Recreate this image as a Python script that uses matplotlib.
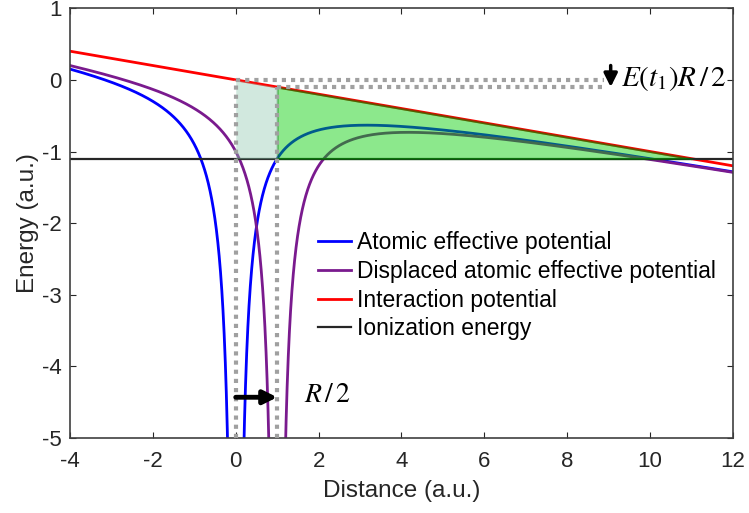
import numpy as np
import matplotlib.pyplot as plt

plt.rcParams['font.family'] = ['Liberation Sans', 'DejaVu Sans']
plt.rcParams['mathtext.fontset'] = 'stix'
plt.rcParams['axes.unicode_minus'] = False

# parameters
field = 0.1          # slope of interaction potential
shift = 1.0          # R/2 displacement
ion_energy = -1.1    # ionization energy level
x_min, x_max = -4, 12
y_min, y_max = -5, 1
xticks = [-4, -2, 0, 2, 4, 6, 8, 10, 12]
yticks = [-5, -4, -3, -2, -1, 0, 1]
labels = ['Atomic effective potential', 'Displaced atomic effective potential',
          'Interaction potential', 'Ionization energy']

x = np.linspace(x_min, x_max, 4001)
x = x[(np.abs(x) > 1e-6) & (np.abs(x - shift) > 1e-6)]
interaction = -field * x
atomic = -1.0 / np.abs(x) + interaction
displaced = -1.0 / np.abs(x - shift) + interaction
x_cross = -ion_energy / field

fig = plt.figure(figsize=(7.49, 5.13), dpi=100)
ax = fig.add_axes([0.0935, 0.146, 0.885, 0.838])

l1, = ax.plot(x, atomic, color='#0000ff', lw=2)
l2, = ax.plot(x, displaced, color='#7a1a8e', lw=2)
l3, = ax.plot([x_min, x_max], [-field * x_min, -field * x_max], color='#ff0000', lw=2)
l4, = ax.plot([x_min, x_max], [ion_energy, ion_energy], color='#262626', lw=1.6)

# shaded regions
xf = np.linspace(shift, x_cross, 200)
ax.fill_between(xf, ion_energy, -field * xf, color=(0, 0.8, 0), alpha=0.45,
                edgecolor=(0, 0.45, 0), lw=1.5, zorder=3)
xl = np.linspace(0, shift, 50)
ax.fill_between(xl, ion_energy, -field * xl, color=(0.55, 0.78, 0.68), alpha=0.4,
                lw=0, zorder=3)

# dotted guides
dot = dict(color='#a0a0a0', lw=3, linestyle=(0, (1, 1.2)), zorder=4)
ax.plot([0, 0], [y_min, 0], **dot)
ax.plot([shift, shift], [y_min, -field * shift], **dot)
ax.plot([0, 8.9], [0, 0], **dot)
ax.plot([shift, 8.9], [-field * shift, -field * shift], **dot)

# arrows
ax.annotate('', xy=(9.05, -0.1), xytext=(9.05, 0.2),
            arrowprops=dict(arrowstyle='-|>', color='black', lw=2.5, mutation_scale=20,
                            shrinkA=0, shrinkB=0), zorder=5)
ax.annotate('', xy=(shift, -4.43), xytext=(0, -4.43),
            arrowprops=dict(arrowstyle='-|>', color='black', lw=3.5, mutation_scale=20,
                            shrinkA=0, shrinkB=0), zorder=5)
ax.text(9.3, 0.02, r'$E(t_1)R\,/\,2$', fontsize=21, va='center', ha='left')
ax.text(1.65, -4.4, r'$R\,/\,2$', fontsize=20, va='center', ha='left')

ax.set_xlim(x_min, x_max)
ax.set_ylim(y_min, y_max)
ax.set_xticks(xticks)
ax.set_yticks(yticks)
ax.tick_params(direction='in', top=True, right=True, length=4, labelsize=16,
               color='#262626', labelcolor='#262626')
ax.tick_params(axis='x', pad=9)
ax.tick_params(axis='y', pad=6)
for s in ax.spines.values():
    s.set_color('#404040')
    s.set_linewidth(1.2)
ax.set_xlabel('Distance (a.u.)', fontsize=17.5, color='#262626', labelpad=6)
ax.set_ylabel('Energy (a.u.)', fontsize=17.5, color='#262626', labelpad=2)

ax.legend([l1, l2, l3, l4], labels, loc='upper left', bbox_to_anchor=(0.357, 0.508),
          frameon=False, fontsize=16.5, handlelength=1.45, handletextpad=0.25,
          labelspacing=0.25, borderpad=0)

fig.savefig('out.png', dpi=100)
